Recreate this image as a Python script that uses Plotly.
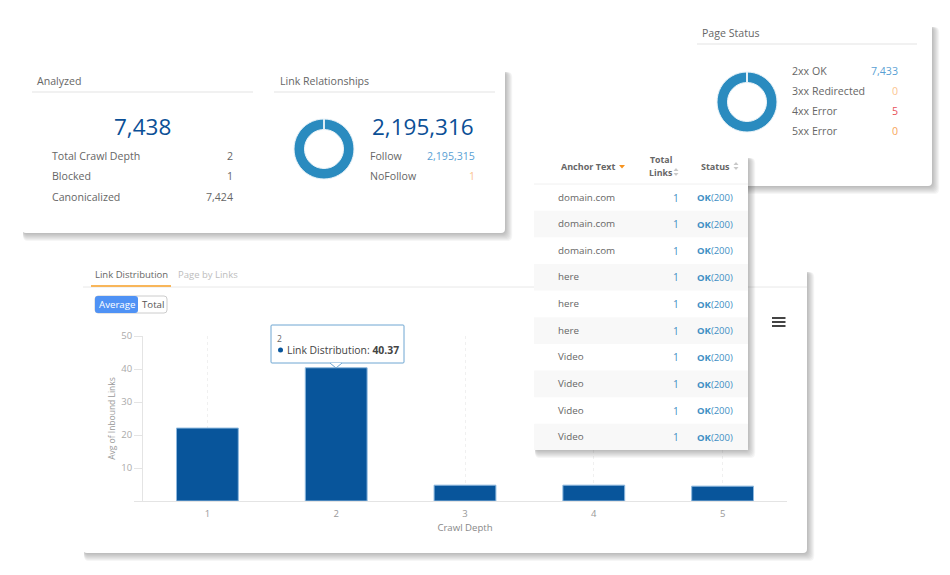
"""Crawl report collage: stat cards, donuts, link table and link distribution bars."""

import plotly.graph_objects as go

# the page body keeps its 8px browser margin, so the figure is drawn inside it
PAGE_PAD = 8
W, H = 934, 559
FONT = "Open Sans"
TEXT = "#666666"
NAVY = "#0b4f96"
BLUE = "#5a9fd4"
LINK = "#3f8fc4"
PEACH = "#fbc48f"
ORANGE = "#f7a55a"
RED = "#e8505b"

# ---------------------------------------------------------------------------
# Data
# ---------------------------------------------------------------------------
crawl_depths = ["1", "2", "3", "4", "5"]
avg_inbound_links = [22.1, 40.37, 4.8, 4.8, 4.5]
y_tick_vals = [0, 10, 20, 30, 40, 50]
y_tick_text = ["", "10", "20", "30", "40", "50"]

analyzed_total = "7,438"
analyzed_labels = ["Total Crawl Depth", "Blocked", "Canonicalized"]
analyzed_values = ["2", "1", "7,424"]

link_total = "2,195,316"
link_labels = ["Follow", "NoFollow"]
link_values = [2195315, 1]
link_colors = [BLUE, PEACH]

status_labels = ["2xx OK", "3xx Redirected", "4xx Error", "5xx Error"]
status_values = [7433, 0, 5, 0]
status_colors = [BLUE, PEACH, RED, ORANGE]

anchor_texts = ["domain.com", "domain.com", "domain.com", "here", "here", "here",
                "Video", "Video", "Video", "Video"]
anchor_links = [1, 1, 1, 1, 1, 1, 1, 1, 1, 1]
anchor_status = ["200"] * 10


# ---------------------------------------------------------------------------
# Pixel helpers, everything outside the plot is placed in screen pixels
# ---------------------------------------------------------------------------
def px(x):
    return (x - PAGE_PAD) / W


def py(y):
    return 1 - (y - PAGE_PAD) / H


shapes = []
annotations = []


def path_shape(path, fill=None, line=None, width=1, layer="below"):
    shapes.append(dict(
        type="path", xref="paper", yref="paper", path=path, layer=layer,
        fillcolor=fill or "rgba(0,0,0,0)",
        line=dict(color=line or "rgba(0,0,0,0)", width=width if line else 0),
    ))


def round_rect(x0, y0, x1, y1, r):
    x0, x1 = px(x0), px(x1)
    y0, y1 = py(y0), py(y1)
    rx, ry = r / W, r / H
    return (
        f"M{x0 + rx},{y0} L{x1 - rx},{y0} Q{x1},{y0} {x1},{y0 - ry} "
        f"L{x1},{y1 + ry} Q{x1},{y1} {x1 - rx},{y1} L{x0 + rx},{y1} "
        f"Q{x0},{y1} {x0},{y1 + ry} L{x0},{y0 - ry} Q{x0},{y0} {x0 + rx},{y0} Z"
    )


def poly(points):
    return "M" + " L".join(f"{px(x)},{py(y)}" for x, y in points) + " Z"


def hline(x0, x1, y, color, width=1, layer="below"):
    path_shape(f"M{px(x0)},{py(y)} L{px(x1)},{py(y)}", line=color, width=width, layer=layer)


def card(x0, y0, x1, y1, layer="below"):
    # soft shadow, falls to the right and bottom only
    for i in range(8, 0, -1):
        path_shape(round_rect(x0 + 1, y0 + 5, x1 + i * 0.9, y1 + i, 5),
                   fill="rgba(50,50,50,0.045)", layer=layer)
    path_shape(round_rect(x0, y0, x1, y1, 4), fill="#ffffff", layer=layer)


def label(x, y, text, size=10.6, color=TEXT, anchor="left"):
    # annotations sit about a pixel inside their anchor
    nudge = {"left": -1, "right": 1, "center": 0}[anchor]
    annotations.append(dict(
        x=px(x + nudge), y=py(y), xref="paper", yref="paper", text=text, showarrow=False,
        xanchor=anchor, yanchor="middle", borderpad=0,
        font=dict(family=FONT, size=size, color=color),
    ))


def sort_icon(x, y, color="#c8c8c8"):
    path_shape(poly([(x - 2.5, y - 1), (x + 2.5, y - 1), (x, y - 4)]), fill=color, layer="above")
    path_shape(poly([(x - 2.5, y + 1), (x + 2.5, y + 1), (x, y + 4)]), fill=color, layer="above")


# ---------------------------------------------------------------------------
# Cards
# ---------------------------------------------------------------------------
card(22, 67, 505, 233)
card(680, 22, 932, 186)
card(83, 267, 807, 553)

# Analyzed
label(37, 81, "Analyzed")
hline(32, 253, 92, "#e3e3e3")
label(142, 127, analyzed_total, size=22.5, color=NAVY, anchor="center")
for row_y, name, value in zip([156, 176, 197], analyzed_labels, analyzed_values):
    label(52, row_y, name)
    label(233, row_y, value, anchor="right")

# Link relationships
label(280, 81, "Link Relationships")
hline(274, 495, 92, "#e3e3e3")
label(423, 127, link_total, size=22.5, color=NAVY, anchor="center")
for row_y, name, value, color in zip([156, 176], link_labels, link_values, link_colors):
    label(370, row_y, name)
    label(475, row_y, f"{value:,}", color=color, anchor="right")

# Page status
label(702, 33, "Page Status")
hline(697, 917, 44, "#e3e3e3")
for row_y, name, value, color in zip([71, 91, 111, 131], status_labels, status_values, status_colors):
    label(792, row_y, name)
    label(898, row_y, f"{value:,}", color=color, anchor="right")

# Bar chart card header
label(95, 274, "Link Distribution", size=9.5)
label(178, 274, "Page by Links", size=9.5, color="#bdbdbd")
hline(83, 807, 287, "#e8e8e8")
hline(91, 171, 286, "#f8b65a", width=2)
path_shape(round_rect(95, 296, 167, 313, 3), fill="#ffffff", line="#cccccc")
path_shape(round_rect(95, 296, 138, 313, 3), fill="#4f92f5")
label(116.5, 304.5, "Average", size=9.7, color="#ffffff", anchor="center")
label(152.5, 304.5, "Total", size=9.7, color="#555555", anchor="center")
for bar_y in (318, 322, 326):
    hline(772, 785.5, bar_y, "#444444", width=2)

# Tooltip on the second bar
path_shape(round_rect(271, 325, 404, 363, 1), fill="#ffffff", line="#6ea6d2", layer="above")
path_shape(poly([(330, 363), (336, 368), (342, 363)]), fill="#ffffff", layer="above")
path_shape(f"M{px(330)},{py(363)} L{px(336)},{py(368)} L{px(342)},{py(363)}", line="#6ea6d2", layer="above")
label(277, 338.5, crawl_depths[1], size=8.5)
path_shape(round_rect(278, 347.5, 283, 352.5, 2.5), fill="#08559b", layer="above")
label(287, 350, f"Link Distribution: <b>{avg_inbound_links[1]}</b>", size=10.4, color="#444444")

# ---------------------------------------------------------------------------
# Link table, sits above the chart card and the page status card
# ---------------------------------------------------------------------------
card(534, 153, 748, 450, layer="above")
label(561, 166, "<b>Anchor Text</b>", size=9)
path_shape(poly([(619, 165), (625, 165), (622, 168.5)]), fill="#f7931e", layer="above")
label(661, 160.5, "<b>Total</b>", size=8.8, anchor="center")
label(661, 172.5, "<b>Links</b>", size=8.8, anchor="center")
sort_icon(676, 172)
label(701, 166, "<b>Status</b>", size=9)
sort_icon(736, 166)
hline(534, 748, 184, "#f0f0f0", layer="above")

row_h = 26.65
for i, (anchor, links, status) in enumerate(zip(anchor_texts, anchor_links, anchor_status)):
    top = 184 + i * row_h
    if i % 2 == 1:
        bottom = min(top + row_h, 450)
        path_shape(round_rect(534, top, 748, bottom, 0.1), fill="#f8f8f8", layer="above")
    mid = top + row_h / 2 - 0.3
    label(558, mid, anchor, size=9.8)
    label(679, mid + 0.5, f"{links}", size=10.2, color=LINK, anchor="right")
    label(697, mid + 0.5, f"<b>OK</b>({status})", size=9.5, color=LINK)

# ---------------------------------------------------------------------------
# Figure
# ---------------------------------------------------------------------------
fig = go.Figure()

fig.add_trace(go.Bar(
    x=crawl_depths, y=avg_inbound_links, width=0.48,
    marker=dict(color="#08559b", line=dict(color="#8db8de", width=1)),
    showlegend=False,
))

# donuts, the small slices only show as a pale gap at twelve o'clock
fig.add_trace(go.Pie(
    labels=link_labels, values=link_values, hole=0.65, sort=False, direction="clockwise",
    domain=dict(x=[px(294), px(354)], y=[py(179), py(119)]),
    marker=dict(colors=["#2a8bbf", "#2a8bbf"], line=dict(color="#e8f2f8", width=1)),
    textinfo="none", showlegend=False,
))
fig.add_trace(go.Pie(
    labels=status_labels, values=status_values, hole=0.65, sort=False, direction="clockwise",
    domain=dict(x=[px(717), px(777)], y=[py(132), py(72)]),
    marker=dict(colors=["#2a8bbf"] * 4, line=dict(color="#e8f2f8", width=1)),
    textinfo="none", showlegend=False,
))

fig.update_layout(
    width=W, height=H,
    margin=dict(l=0, r=0, t=0, b=0),
    autosize=False,
    paper_bgcolor="#ffffff",
    plot_bgcolor="rgba(0,0,0,0)",
    shapes=shapes,
    annotations=annotations,
    font=dict(family=FONT, color=TEXT),
    xaxis=dict(
        domain=[px(143), px(787)], type="category", automargin=False,
        showgrid=True, griddash="dot", gridcolor="#f0f0f0", gridwidth=1,
        showline=True, linecolor="#e4e4e4", ticks="", zeroline=False,
        tickfont=dict(family=FONT, size=9.5, color="#999999"), ticklabelstandoff=4,
        title=dict(text="Crawl Depth", font=dict(family=FONT, size=9.6, color="#888888"), standoff=4),
    ),
    yaxis=dict(
        domain=[py(501), py(336)], range=[0, 50], automargin=False,
        tickvals=y_tick_vals, ticktext=y_tick_text,
        showgrid=False, zeroline=False,
        showline=True, linecolor="#e4e4e4", ticks="outside", ticklen=8, tickcolor="#e4e4e4",
        tickfont=dict(family=FONT, size=9.5, color="#aaaaaa"),
        title=dict(text="Avg of Inbound Links", font=dict(family=FONT, size=8.5, color="#999999"), standoff=4),
    ),
)

fig.write_html("out.html")
